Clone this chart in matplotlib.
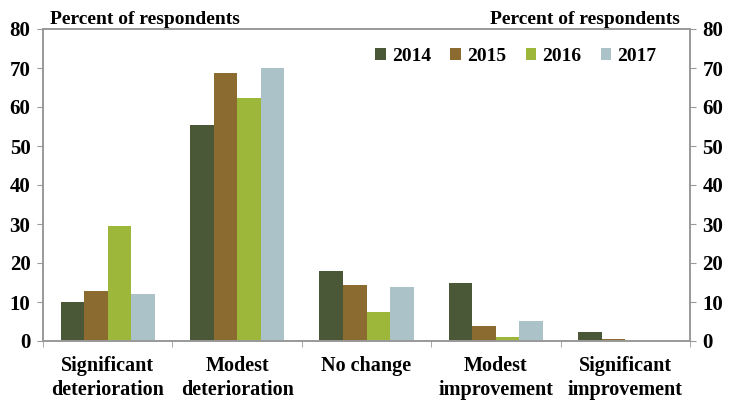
import numpy as np
import matplotlib.pyplot as plt

categories = ['Significant\ndeterioration', 'Modest\ndeterioration', 'No change',
              'Modest\nimprovement', 'Significant\nimprovement']
years = ['2014', '2015', '2016', '2017']
v2014 = [10.0, 55.4, 18.0, 15.0, 2.2]
v2015 = [12.8, 68.7, 14.4, 3.8, 0.6]
v2016 = [29.5, 62.2, 7.4, 1.1, 0.0]
v2017 = [12.0, 69.9, 13.8, 5.2, 0.0]
colors = ['#4b5837', '#8b6b30', '#9db73b', '#abc2c9']

plt.rcParams['font.family'] = ['Liberation Serif', 'DejaVu Serif']
plt.rcParams['font.weight'] = 'bold'

fig = plt.figure(figsize=(7.33, 4.03), dpi=100)
ax = fig.add_axes([43/733, 62/403, 647/733, 312/403])

x = np.arange(len(categories))
w = 0.182
for i, (vals, yr) in enumerate(zip([v2014, v2015, v2016, v2017], years)):
    ax.bar(x + (i - 1.5) * w, vals, w, color=colors[i], label=yr, linewidth=0)

ax.set_xlim(-0.5, len(categories) - 0.5)
ax.set_ylim(0, 80)
ax.set_yticks(range(0, 81, 10))
ax.set_xticks(x)
ax.set_xticklabels(categories, fontsize=14.5, fontweight='bold', linespacing=1.25)
ax.set_xticks(np.arange(-0.5, len(categories), 1), minor=True)
ax.tick_params(axis='x', which='major', length=0, pad=11)
ax.tick_params(axis='x', which='minor', length=4, color='#999999')
ax.tick_params(axis='y', labelsize=15, length=4, color='#999999', pad=5)

ax2 = ax.twinx()
ax2.set_ylim(0, 80)
ax2.set_yticks(range(0, 81, 10))
ax2.tick_params(axis='y', labelsize=15, length=4, color='#999999', pad=5)

for a in (ax, ax2):
    for s in a.spines.values():
        s.set_color('#999999')
        s.set_linewidth(1.2)

ax.text(0.011, 1.003, 'Percent of respondents', transform=ax.transAxes,
        ha='left', va='bottom', fontsize=14, fontweight='bold')
ax.text(0.985, 1.003, 'Percent of respondents', transform=ax.transAxes,
        ha='right', va='bottom', fontsize=14, fontweight='bold')

ax.legend(loc='upper right', bbox_to_anchor=(0.975, 0.995), ncol=4, frameon=False,
          fontsize=14, handlelength=0.55, handleheight=0.55, handletextpad=0.3,
          columnspacing=1.0)

fig.savefig('out.png', dpi=100)
